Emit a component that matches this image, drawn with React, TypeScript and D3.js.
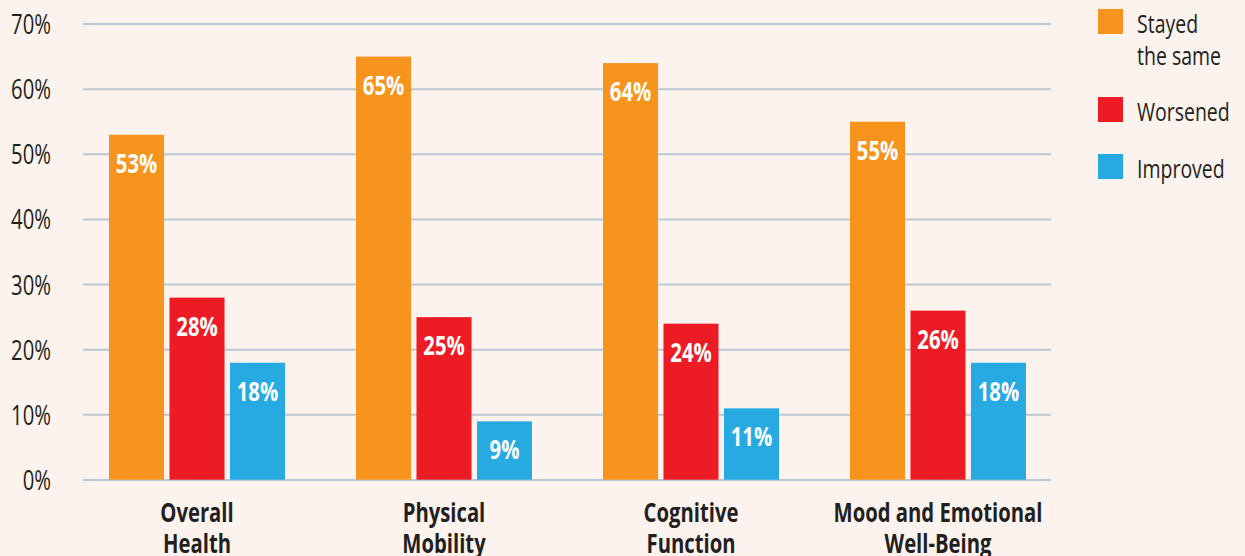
import React from "react";
import * as d3 from "d3";

const categories = [
  ["Overall", "Health"],
  ["Physical", "Mobility"],
  ["Cognitive", "Function"],
  ["Mood and Emotional", "Well-Being"],
];
const seriesNames = ["Stayed the same", "Worsened", "Improved"];
const legendLines = [["Stayed", "the same"], ["Worsened"], ["Improved"]];
const stayedSame = [53, 65, 64, 55];
const worsened = [28, 25, 24, 26];
const improved = [18, 9, 11, 18];
const yTicks = [0, 10, 20, 30, 40, 50, 60, 70];
const colors = ["#F7941D", "#ED1C24", "#27AAE1"];

const W = 1245;
const H = 556;
const FONT = "'Open Sans', 'Noto Sans', sans-serif";
const SX = 0.75; // horizontal squeeze for a condensed look

type TProps = {
  x: number;
  y: number;
  size: number;
  bold?: boolean;
  fill: string;
  anchor?: "start" | "middle" | "end";
  children: React.ReactNode;
};

function CText({ x, y, size, bold, fill, anchor = "start", children }: TProps) {
  return (
    <text
      transform={`translate(${x},${y}) scale(${SX},1)`}
      textAnchor={anchor}
      fontSize={size}
      fontWeight={bold ? 700 : 400}
      fill={fill}
    >
      {children}
    </text>
  );
}

export default function App() {
  const series = [stayedSame, worsened, improved];
  const gridX0 = 83;
  const gridX1 = 1051;

  const y = d3.scaleLinear().domain([0, 70]).range([480, 24]);
  const x0 = d3
    .scaleBand<number>()
    .domain(d3.range(categories.length))
    .range([73.5, 1061.5])
    .paddingInner(0)
    .paddingOuter(0);
  const groupW = 176;
  const x1 = d3
    .scaleBand<number>()
    .domain(d3.range(series.length))
    .range([0, groupW])
    .paddingInner(0.09);

  return (
    <svg
      width={W}
      height={H}
      style={{ position: "absolute", left: 0, top: 0, background: "#FCF3EE" }}
      fontFamily={FONT}
    >
      <rect width={W} height={H} fill="#FCF3EE" />
      {yTicks.map((t) => (
        <g key={t}>
          <line x1={gridX0} x2={gridX1} y1={y(t)} y2={y(t)} stroke="#BAC8D3" strokeWidth={2} />
          <CText x={51} y={y(t) + 10} anchor="end" size={27} fill="#231F20">
            {t}%
          </CText>
        </g>
      ))}
      {categories.map((cat, ci) => {
        const gx = (x0(ci) as number) + x0.bandwidth() / 2 - groupW / 2;
        return (
          <g key={ci} transform={`translate(${gx},0)`}>
            {series.map((s, si) => {
              const v = s[ci];
              const bx = x1(si) as number;
              const bw = x1.bandwidth();
              return (
                <g key={si}>
                  <rect x={bx} y={y(v)} width={bw} height={y(0) - y(v)} fill={colors[si]} />
                  <CText x={bx + bw / 2} y={y(v) + 38} anchor="middle" size={27} bold fill="#FFFFFF">
                    {v}%
                  </CText>
                </g>
              );
            })}
            {cat.map((line, li) => (
              <CText key={li} x={groupW / 2} y={522 + li * 31} anchor="middle" size={27} bold fill="#231F20">
                {line}
              </CText>
            ))}
          </g>
        );
      })}
      <line x1={gridX0} x2={gridX1} y1={y(0)} y2={y(0)} stroke="#BAC8D3" strokeWidth={1} opacity={0.6} />
      {seriesNames.map((name, i) => {
        const ly = [9, 97, 154][i];
        return (
          <g key={name}>
            <rect x={1098} y={ly} width={25} height={25} fill={colors[i]} />
            {legendLines[i].map((l, li) => (
              <CText key={li} x={1137} y={ly + 24 + li * 32} size={26} fill="#231F20">
                {l}
              </CText>
            ))}
          </g>
        );
      })}
    </svg>
  );
}
